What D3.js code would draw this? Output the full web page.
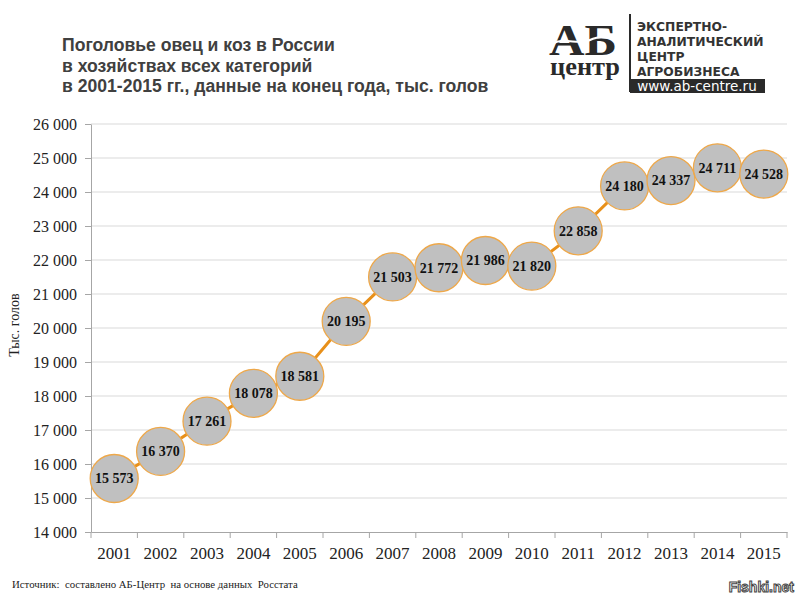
<!DOCTYPE html>
<html>
<head>
<meta charset="utf-8">
<script src="https://cdn.jsdelivr.net/npm/d3@7"></script>
<style>
html,body{margin:0;padding:0;background:#fff;}
svg{display:block;}
</style>
</head>
<body>
<svg id="chart" width="800" height="600"></svg>
<script>
const years = ["2001","2002","2003","2004","2005","2006","2007","2008","2009","2010","2011","2012","2013","2014","2015"];
const values = [15573,16370,17261,18078,18581,20195,21503,21772,21986,21820,22858,24180,24337,24711,24528];
const yTicks = [14000,15000,16000,17000,18000,19000,20000,21000,22000,23000,24000,25000,26000];
const titleLines = ["Поголовье овец и коз в России","в хозяйствах всех категорий","в 2001-2015 гг., данные на конец года, тыс. голов"];
const logoLines = ["ЭКСПЕРТНО-","АНАЛИТИЧЕСКИЙ","ЦЕНТР","АГРОБИЗНЕСА"];

(function(){
const svg = d3.select("#chart");
svg.append("rect").attr("width",800).attr("height",600).attr("fill","#fff");

const pL = 91, pR = 787, pT = 124, pB = 532;
const serif = "'Liberation Serif', 'Times New Roman', serif";
const x = d3.scaleBand().domain(years).range([pL,pR]).padding(0);
const y = d3.scaleLinear().domain([14000,26000]).range([pB,pT]);
const fmt = v => d3.format(",")(v).replace(/,/g," ");

// gridlines
svg.append("g").selectAll("line").data(yTicks.filter(t=>t>14000)).join("line")
  .attr("x1",pL).attr("x2",pR).attr("y1",d=>y(d)).attr("y2",d=>y(d))
  .attr("stroke","#d9d9d9").attr("stroke-width",1);

// y axis
const yAxis = svg.append("g").attr("transform",`translate(${pL},0)`)
  .call(d3.axisLeft(y).tickValues(yTicks).tickFormat(fmt).tickSize(6).tickSizeOuter(0).tickPadding(8));
yAxis.attr("font-family",null).attr("font-size",null);
yAxis.select(".domain").attr("stroke","#a6a6a6");
yAxis.selectAll(".tick line").attr("stroke","#a6a6a6");
yAxis.selectAll("text").style("font-family",serif).style("font-size","16px").attr("fill","#222");

// x axis
const xAxis = svg.append("g").attr("transform",`translate(0,${pB})`)
  .call(d3.axisBottom(x).tickSize(0).tickPadding(15));
xAxis.attr("font-family",null).attr("font-size",null);
xAxis.select(".domain").attr("stroke","#a6a6a6");
xAxis.selectAll("text").style("font-family",serif).style("font-size","17px").attr("fill","#222");
const bounds = years.map(d=>x(d)).concat([pR]);
svg.append("g").selectAll("line").data(bounds).join("line")
  .attr("x1",d=>d).attr("x2",d=>d).attr("y1",pB).attr("y2",pB+6)
  .attr("stroke","#a6a6a6");

// line
const cx = d => x(d) + x.bandwidth()/2;
svg.append("path").datum(values)
  .attr("d", d3.line().x((d,i)=>cx(years[i])).y(d=>y(d)))
  .attr("fill","none").attr("stroke","#e8901a").attr("stroke-width",3);

// circles
const pts = svg.append("g").selectAll("g").data(values).join("g")
  .attr("transform",(d,i)=>`translate(${cx(years[i])},${y(d)})`);
pts.append("circle").attr("r",24).attr("fill","#c0c0c0").attr("stroke","#eea84a").attr("stroke-width",1.3);
pts.append("text").text(d=>fmt(d)).attr("text-anchor","middle").attr("dy","0.35em")
  .style("font-family",serif).attr("font-weight","bold").style("font-size","14px").attr("fill","#111");

// y label
svg.append("text").attr("transform","translate(19,325) rotate(-90)").attr("text-anchor","middle")
  .style("font-family",serif).style("font-size","14px").attr("fill","#222").text("Тыс. голов");

// title
svg.append("g").selectAll("text").data(titleLines).join("text")
  .attr("x",62).attr("y",(d,i)=>51+i*20.5).text(d=>d)
  .attr("font-family","'Liberation Sans', Arial, sans-serif").attr("font-weight","bold").attr("font-size",17.6).attr("fill","#404040");

// logo
const logo = svg.append("g");
const mark = logo.append("text").style("font-family",serif).attr("font-weight","bold").attr("fill","#2a2a2a");
mark.append("tspan").attr("x",549).attr("y",55).attr("font-size",45).attr("textLength",68).attr("lengthAdjust","spacingAndGlyphs").text("АБ");
mark.append("tspan").attr("x",550).attr("y",75).attr("font-size",26).attr("textLength",70).attr("lengthAdjust","spacingAndGlyphs").text("центр");
logo.append("path").attr("d","M552,44 C565,36 578,46 590,40 C600,35 610,38 620,34")
  .attr("fill","none").attr("stroke","#fff").attr("stroke-width",2);
logo.append("line").attr("x1",630).attr("x2",630).attr("y1",14).attr("y2",92).attr("stroke","#2a2a2a").attr("stroke-width",2);
logo.append("g").selectAll("text").data(logoLines).join("text")
  .attr("x",637).attr("y",(d,i)=>31+i*15).text(d=>d)
  .attr("font-family","'DejaVu Sans', sans-serif").attr("font-weight","bold").attr("font-size",12.3).attr("fill","#333");
logo.append("rect").attr("x",630).attr("y",79).attr("width",135).attr("height",14).attr("fill","#2a2a2a");
logo.append("text").attr("x",697).attr("y",90.5).attr("text-anchor","middle").text("www.ab-centre.ru")
  .attr("font-family","'DejaVu Sans', sans-serif").attr("font-size",13.5).attr("fill","#fff");

// source
svg.append("text").attr("x",12).attr("y",588).text("Источник:  составлено АБ-Центр  на основе данных  Росстата")
  .style("font-family",serif).style("font-size","10.8px").attr("fill","#222").attr("xml:space","preserve");

// watermark
svg.append("text").attr("x",794).attr("y",592).attr("text-anchor","end").text("Fishki.net")
  .attr("font-family","'Liberation Sans', Arial, sans-serif").attr("font-weight","bold").attr("font-size",14)
  .attr("fill","#fff").attr("stroke","#444").attr("stroke-width",1);
})();
</script>
</body>
</html>
